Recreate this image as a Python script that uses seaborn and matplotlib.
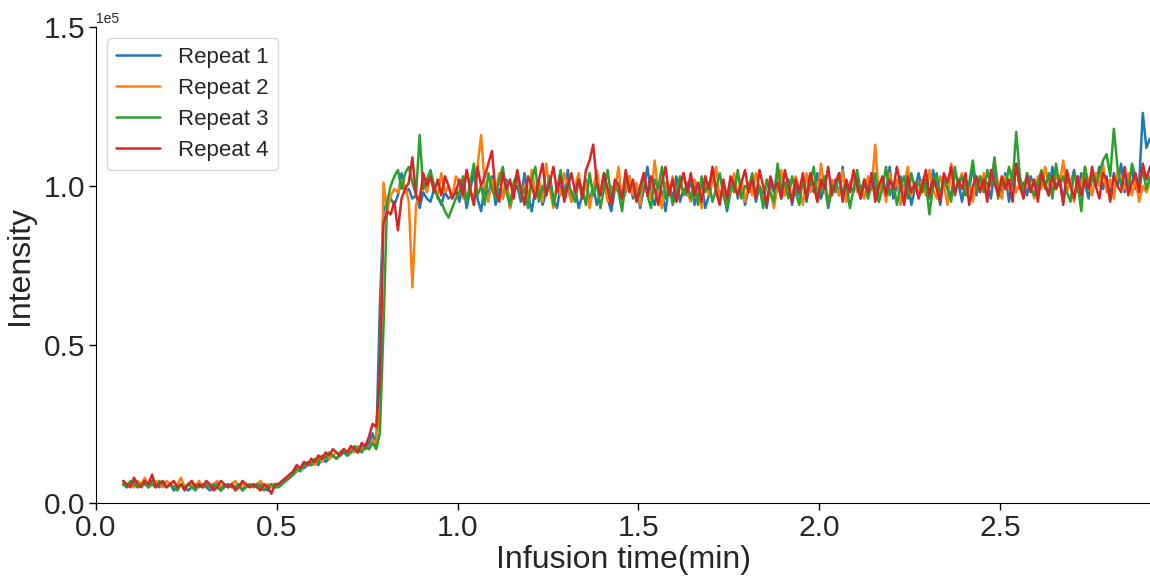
import numpy as np
import pandas as pd
import matplotlib
matplotlib.use("Agg")
import matplotlib.pyplot as plt
import seaborn as sns

# Intensity readings (x 1000), one every 0.01 min starting at 0.075 min
t_start = 0.075
t_step = 0.01

repeat_1 = [
    6, 5, 6, 7, 5, 6, 6, 5, 7, 6, 5, 6, 5, 6, 4, 5, 6, 5, 4, 5, 6, 5, 6, 5, 4, 5, 6, 4, 5, 6,
    5, 5, 6, 4, 6, 5, 6, 5, 6, 5, 4, 6, 5,
    6, 7, 7, 8, 9, 10, 11, 11, 12, 12, 13, 12, 14, 13, 14, 15, 14, 15, 16, 15, 16, 17, 16, 18,
    17, 19, 22, 18,
    62, 92,
    95, 96, 94, 97, 104, 98, 99, 96, 97, 93, 98, 96, 95, 99, 97, 94, 98, 96, 97, 99,
    95, 101, 93, 99, 104, 96, 92, 100, 97, 103, 94, 99, 96, 102, 93, 98,
    100, 95, 104, 97, 92, 99, 101, 94, 98, 103, 96, 93, 100, 97, 105, 95,
    99, 93, 97, 102, 95, 100, 94, 98, 104, 96, 92, 99, 101, 95, 98, 103,
    96, 100, 93, 99, 106, 97, 94, 101, 98, 92, 100, 96, 103, 95, 99, 97,
    102, 94, 98, 101, 93, 97, 104, 99, 95, 100, 92, 98, 103, 96, 101, 94,
    99, 103, 95, 100, 97, 93, 101, 98, 105, 96, 99, 102, 94, 100, 97, 103,
    95, 101, 98, 104, 96, 100, 93, 99, 102, 97, 106, 95, 100, 98, 103, 96,
    101, 97, 104, 99, 95, 102, 98, 106, 96, 100, 103, 97, 101, 94, 99, 104,
    98, 102, 96, 105, 100, 94, 103, 99, 97, 104, 101, 95, 102, 99, 106, 97,
    103, 99, 101, 96, 105, 100, 98, 104, 95, 102, 107, 99, 101, 97, 103, 100,
    98, 104, 101, 97, 106, 99, 103, 95, 102, 100, 105, 98, 104, 101, 96, 103,
    101, 106, 99, 103, 97, 104, 100, 107, 98, 102, 105, 99, 101, 123, 112, 115,
]

repeat_2 = [
    7, 6, 6, 5, 7, 6, 8, 5, 6, 7, 6, 5, 7, 6, 5, 6, 8, 5, 6, 6, 5, 7, 5, 6, 5, 6, 7, 5, 6, 5,
    6, 7, 5, 6, 5, 6, 5, 6, 7, 5, 6, 5, 6,
    6, 7, 8, 8, 10, 10, 11, 12, 12, 13, 12, 14, 13, 15, 14, 15, 16, 15, 17, 16, 17, 16, 18,
    17, 18, 17, 20, 19,
    30, 101,
    92, 97, 99, 98, 102, 100, 95, 68, 94, 97, 101, 98, 103, 99, 97, 104, 98, 100, 96, 103,
    101, 96, 105, 99, 94, 106, 116, 100, 95, 102, 98, 104, 96, 101, 93, 99,
    103, 97, 100, 94, 105, 98, 102, 95, 107, 99, 93, 101, 97, 104, 99, 95,
    100, 104, 96, 101, 93, 99, 105, 97, 102, 95, 100, 98, 106, 94, 99, 103,
    97, 101, 94, 104, 99, 96, 108, 98, 93, 101, 97, 103, 95, 100, 104, 98,
    95, 102, 99, 93, 103, 97, 101, 106, 96, 100, 94, 99, 104, 97, 102, 95,
    101, 97, 104, 99, 95, 102, 98, 93, 100, 105, 97, 101, 96, 103, 99, 94,
    104, 98, 101, 96, 107, 99, 94, 102, 100, 97, 105, 95, 101, 103, 98, 100,
    96, 103, 99, 113, 97, 101, 95, 104, 99, 102, 94, 100, 106, 97, 101, 98,
    102, 97, 105, 99, 96, 103, 100, 94, 107, 98, 101, 104, 97, 100, 95, 103,
    99, 104, 97, 102, 108, 100, 96, 103, 99, 105, 98, 101, 97, 104, 100, 96,
    103, 99, 106, 101, 97, 104, 100, 108, 98, 102, 95, 103, 99, 106, 101, 97,
    104, 100, 107, 98, 102, 96, 105, 101, 99, 104, 97, 102, 95, 100, 98, 101,
]

repeat_3 = [
    6, 5, 7, 6, 5, 6, 7, 5, 6, 5, 7, 6, 5, 6, 5, 4, 6, 5, 6, 5, 4, 6, 5, 6, 5, 6, 5, 4, 6, 5,
    6, 5, 6, 4, 5, 6, 5, 6, 5, 4, 5, 6, 5,
    5, 6, 7, 8, 9, 11, 10, 12, 13, 12, 14, 13, 15, 14, 16, 15, 14, 16, 17, 15, 16, 18, 17,
    16, 18, 17, 19, 17,
    22, 55,
    95, 100, 103, 105, 99, 104, 106, 101, 97, 116, 99, 102, 105, 100, 96, 95, 92, 90, 93, 96,
    98, 103, 95, 101, 107, 97, 100, 94, 104, 99, 96, 102, 106, 98, 94, 101,
    104, 97, 99, 93, 102, 106, 95, 100, 97, 103, 94, 99, 105, 96, 101, 98,
    95, 102, 99, 94, 104, 97, 101, 93, 99, 105, 96, 100, 98, 92, 103, 99,
    101, 95, 98, 104, 97, 93, 102, 99, 106, 96, 100, 94, 98, 103, 97, 101,
    96, 100, 94, 103, 98, 101, 95, 99, 104, 97, 93, 101, 98, 105, 96, 100,
    99, 104, 96, 100, 93, 102, 98, 95, 107, 99, 101, 96, 103, 98, 94, 102,
    97, 101, 106, 95, 99, 103, 94, 100, 98, 104, 97, 101, 93, 99, 105, 98,
    102, 96, 100, 104, 95, 99, 106, 97, 101, 94, 100, 103, 96, 104, 99, 101,
    98, 101, 91, 100, 104, 97, 102, 99, 95, 106, 100, 103, 97, 101, 108, 99,
    103, 98, 105, 100, 109, 96, 102, 99, 106, 101, 117, 103, 98, 104, 100, 97,
    101, 105, 99, 104, 96, 107, 100, 103, 98, 95, 104, 101, 92, 106, 99, 103,
    100, 104, 108, 110, 103, 118, 106, 100, 104, 98, 107, 103, 100, 105, 99, 103,
]

repeat_4 = [
    7, 6, 5, 8, 6, 5, 7, 6, 9, 5, 6, 7, 5, 6, 7, 5, 6, 4, 6, 7, 5, 6, 5, 7, 6, 4, 5, 7, 6, 5,
    6, 4, 5, 7, 6, 5, 6, 5, 4, 6, 5, 3, 6,
    6, 7, 8, 9, 10, 12, 11, 13, 12, 14, 13, 15, 14, 16, 15, 17, 16, 15, 17, 16, 18, 17, 16,
    19, 18, 21, 25, 24,
    40, 88,
    92, 91, 95, 86, 96, 99, 101, 109, 97, 95, 104, 100, 103, 98, 102, 97, 103, 100, 96, 98,
    102, 97, 105, 99, 94, 106, 100, 103, 107, 111, 98, 95, 104, 99, 102, 96,
    105, 99, 94, 103, 100, 96, 102, 107, 97, 101, 106, 98, 103, 95, 100, 104,
    98, 102, 96, 105, 108, 113, 101, 97, 104, 99, 94, 102, 100, 96, 105, 98,
    102, 95, 100, 104, 97, 103, 99, 94, 101, 106, 97, 102, 95, 100, 104, 98,
    104, 97, 101, 95, 103, 99, 106, 98, 94, 102, 96, 103, 100, 97, 101, 105,
    98, 102, 96, 105, 100, 94, 103, 99, 101, 96, 105, 100, 95, 102, 98, 104,
    96, 104, 100, 95, 102, 99, 106, 97, 101, 104, 95, 102, 98, 105, 100, 96,
    102, 98, 104, 95, 100, 103, 97, 102, 99, 106, 100, 94, 103, 98, 101, 96,
    100, 105, 97, 102, 99, 95, 104, 101, 106, 97, 102, 99, 104, 94, 100, 103,
    98, 102, 95, 105, 101, 97, 103, 99, 102, 95, 107, 100, 96, 103, 98, 102,
    95, 104, 100, 97, 103, 99, 102, 94, 105, 100, 96, 103, 97, 102, 99, 106,
    100, 96, 104, 102, 95, 103, 100, 98, 106, 97, 101, 104, 98, 107, 102, 106,
]

labels = ["Repeat 1", "Repeat 2", "Repeat 3", "Repeat 4"]
series = [repeat_1, repeat_2, repeat_3, repeat_4]

frames = []
for lab, vals in zip(labels, series):
    n = len(vals)
    t = t_start + t_step * np.arange(n)
    frames.append(pd.DataFrame({"time": t, "intensity": np.array(vals) * 1000.0, "run": lab}))
df = pd.concat(frames, ignore_index=True)

sns.set_style("ticks")
plt.rcParams["font.family"] = ["Liberation Sans", "DejaVu Sans"]

fig, ax = plt.subplots(figsize=(11.5, 5.79), dpi=100)
fig.subplots_adjust(left=0.0835, right=1.0, top=0.953, bottom=0.131)

sns.lineplot(data=df, x="time", y="intensity", hue="run", palette="tab10",
             linewidth=1.8, ax=ax)

ax.set_xlim(0, df["time"].max())
ax.set_ylim(0, 1.5e5)
ax.set_xticks([0, 0.5, 1.0, 1.5, 2.0, 2.5])
ax.set_yticks([0, 0.5e5, 1.0e5, 1.5e5])
ax.ticklabel_format(axis="y", style="sci", scilimits=(0, 0))
ax.tick_params(labelsize=21.5, color="black", width=1, length=5, pad=3)
ax.yaxis.get_offset_text().set_fontsize(10)
ax.set_xlabel("Infusion time(min)", fontsize=23, labelpad=2)
ax.set_ylabel("Intensity", fontsize=23, labelpad=6)
for sp in ["left", "bottom"]:
    ax.spines[sp].set_color("black")
sns.despine(ax=ax)

ax.legend(loc="upper left", fontsize=16, title=None, handlelength=2.0,
          labelspacing=0.45)

fig.savefig("out.png", dpi=100)
